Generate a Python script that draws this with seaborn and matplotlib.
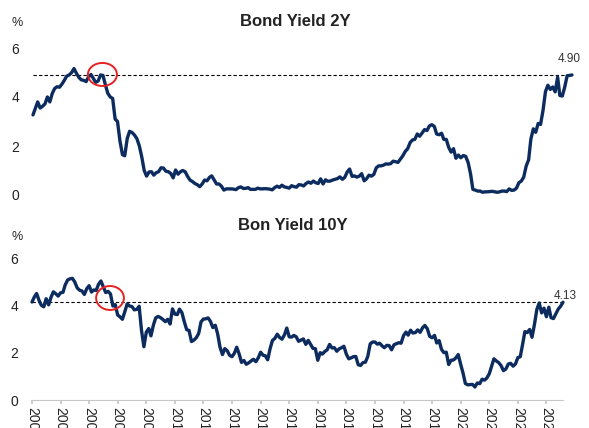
import pandas as pd
import matplotlib.pyplot as plt
import matplotlib.dates as mdates
from matplotlib.patches import Ellipse
import seaborn as sns

# Monthly observations, Jan 2005 - Aug 2023
months = pd.date_range("2005-01-01", "2023-08-01", freq="MS")

yield_2y = [
    3.27, 3.55, 3.80, 3.55, 3.62, 3.72, 4.00, 3.80, 4.15, 4.35, 4.42, 4.40,  # 2005
    4.53, 4.69, 4.85, 4.90, 4.99, 5.16, 4.97, 4.80, 4.70, 4.68, 4.63, 4.82,  # 2006
    4.92, 4.75, 4.60, 4.65, 4.90, 4.88, 4.50, 4.15, 4.00, 3.94, 3.10, 3.00,  # 2007
    2.20, 1.65, 1.60, 2.30, 2.60, 2.55, 2.45, 2.30, 2.00, 1.56, 1.00, 0.77,  # 2008
    0.94, 0.95, 0.81, 0.91, 0.95, 1.11, 1.10, 0.97, 0.95, 0.88, 0.70, 1.02,  # 2009
    0.85, 0.95, 1.00, 0.95, 0.76, 0.61, 0.55, 0.47, 0.42, 0.34, 0.45, 0.61,  # 2010
    0.58, 0.72, 0.78, 0.61, 0.45, 0.45, 0.36, 0.20, 0.25, 0.25, 0.25, 0.24,  # 2011
    0.22, 0.30, 0.33, 0.27, 0.27, 0.30, 0.23, 0.23, 0.23, 0.28, 0.25, 0.25,  # 2012
    0.26, 0.25, 0.24, 0.21, 0.30, 0.36, 0.31, 0.40, 0.33, 0.31, 0.28, 0.38,  # 2013
    0.34, 0.32, 0.42, 0.41, 0.37, 0.47, 0.53, 0.48, 0.57, 0.50, 0.47, 0.66,  # 2014
    0.45, 0.62, 0.56, 0.57, 0.61, 0.64, 0.67, 0.74, 0.64, 0.72, 0.94, 1.06,  # 2015
    0.76, 0.78, 0.73, 0.77, 0.87, 0.58, 0.66, 0.81, 0.77, 0.84, 1.11, 1.19,  # 2016
    1.19, 1.22, 1.27, 1.26, 1.28, 1.38, 1.36, 1.33, 1.47, 1.60, 1.78, 1.89,  # 2017
    2.14, 2.25, 2.27, 2.49, 2.40, 2.53, 2.67, 2.63, 2.82, 2.87, 2.80, 2.49,  # 2018
    2.46, 2.52, 2.27, 2.27, 1.95, 1.75, 1.89, 1.50, 1.63, 1.52, 1.61, 1.58,  # 2019
    1.33, 0.86, 0.23, 0.20, 0.16, 0.16, 0.11, 0.13, 0.13, 0.14, 0.15, 0.13,  # 2020
    0.11, 0.13, 0.16, 0.16, 0.14, 0.25, 0.19, 0.20, 0.28, 0.50, 0.57, 0.73,  # 2021
    1.18, 1.44, 2.28, 2.70, 2.56, 2.92, 2.88, 3.45, 4.22, 4.48, 4.31, 4.41,  # 2022
    4.21, 4.81, 4.06, 4.04, 4.40, 4.87, 4.88, 4.90,                          # 2023
]

yield_10y = [
    4.14, 4.36, 4.50, 4.21, 4.00, 3.94, 4.28, 4.02, 4.34, 4.57, 4.49, 4.39,  # 2005
    4.53, 4.55, 4.86, 5.07, 5.12, 5.14, 4.99, 4.74, 4.64, 4.61, 4.46, 4.70,  # 2006
    4.83, 4.56, 4.65, 4.63, 4.89, 5.03, 4.78, 4.54, 4.59, 4.48, 3.97, 4.03,  # 2007
    3.59, 3.51, 3.41, 3.73, 4.06, 3.97, 3.95, 3.81, 3.83, 3.96, 2.93, 2.25,  # 2008
    2.87, 3.02, 2.71, 3.16, 3.47, 3.53, 3.48, 3.40, 3.31, 3.41, 3.21, 3.85,  # 2009
    3.63, 3.61, 3.84, 3.69, 3.31, 2.97, 2.94, 2.47, 2.53, 2.63, 2.81, 3.30,  # 2010
    3.42, 3.43, 3.47, 3.32, 3.06, 3.16, 2.80, 2.23, 1.92, 2.17, 2.08, 1.89,  # 2011
    1.83, 1.98, 2.23, 1.95, 1.59, 1.67, 1.51, 1.57, 1.65, 1.72, 1.62, 1.78,  # 2012
    2.02, 1.89, 1.87, 1.70, 2.16, 2.52, 2.60, 2.78, 2.64, 2.57, 2.75, 3.04,  # 2013
    2.67, 2.66, 2.73, 2.67, 2.48, 2.53, 2.58, 2.35, 2.52, 2.35, 2.18, 2.17,  # 2014
    1.68, 2.00, 1.94, 2.05, 2.12, 2.35, 2.20, 2.21, 2.06, 2.16, 2.21, 2.27,  # 2015
    1.94, 1.74, 1.78, 1.83, 1.84, 1.49, 1.46, 1.58, 1.60, 1.84, 2.37, 2.45,  # 2016
    2.45, 2.36, 2.40, 2.29, 2.21, 2.31, 2.30, 2.12, 2.33, 2.38, 2.42, 2.40,  # 2017
    2.72, 2.87, 2.74, 2.95, 2.83, 2.85, 2.96, 2.86, 3.05, 3.15, 3.01, 2.69,  # 2018
    2.63, 2.73, 2.41, 2.51, 2.14, 2.00, 2.02, 1.50, 1.68, 1.69, 1.78, 1.92,  # 2019
    1.51, 1.13, 0.70, 0.64, 0.65, 0.66, 0.55, 0.72, 0.69, 0.88, 0.84, 0.93,  # 2020
    1.11, 1.44, 1.74, 1.65, 1.58, 1.45, 1.24, 1.31, 1.52, 1.55, 1.43, 1.52,  # 2021
    1.79, 1.83, 2.32, 2.89, 2.85, 2.98, 2.65, 3.19, 3.83, 4.10, 3.68, 3.88,  # 2022
    3.52, 3.92, 3.48, 3.44, 3.64, 3.84, 3.96, 4.13,                          # 2023
]

years = list(range(2005, 2024))
y_ticks = [0, 2, 4, 6]
titles = ["Bond Yield 2Y", "Bon Yield 10Y"]

sns.set_theme(style="white")
plt.rcParams["font.family"] = ["Liberation Sans", "DejaVu Sans"]

df = pd.DataFrame({"date": months, "2Y": yield_2y, "10Y": yield_10y})

NAVY = "#0c2b5e"
TEXT = "#222222"
W, H = 589, 428

fig = plt.figure(figsize=(W / 100, H / 100), dpi=100)
fig.patch.set_facecolor("white")

ax_top = fig.add_axes([33 / W, 233 / H, 539 / W, 147 / H])
ax_bot = fig.add_axes([32 / W, 28 / H, 531 / W, 142 / H])

panels = [
    (ax_top, "2Y", (-2, 11.5), ("2007-05-25", 4.92, 365, 0.94)),
    (ax_bot, "10Y", (1.5, 4.5), ("2007-09-25", 4.31, 355, 1.01)),
]

for ax, col, label_offset, (c_date, c_val, c_w, c_h) in panels:
    sns.lineplot(data=df, x="date", y=col, ax=ax, color=NAVY, linewidth=2.4)
    for line in ax.lines:
        line.set_clip_on(False)
        line.set_solid_joinstyle("round")
        line.set_solid_capstyle("round")

    last = df[col].iloc[-1]
    ax.plot([months[0], months[-1]], [last, last], color="black",
            linewidth=0.8, linestyle=(0, (3, 2)), zorder=1)
    ax.annotate(f"{last:.2f}", xy=(months[-1], last), xytext=label_offset,
                textcoords="offset points", ha="center", va="center",
                fontsize=8.5, color="#333333")

    ax.add_patch(Ellipse((mdates.date2num(pd.Timestamp(c_date)), c_val),
                         width=c_w, height=c_h, fill=False,
                         edgecolor="#e52222", linewidth=1.4, clip_on=False,
                         zorder=5))

    ax.set_xlim(months[0], months[-1])
    ax.set_ylim(0, 6)
    ax.set_yticks(y_ticks)
    ax.set_yticklabels([str(v) for v in y_ticks], fontsize=10, color=TEXT)
    ax.tick_params(axis="y", length=0, pad=10)
    ax.set_xlabel("")
    ax.set_ylabel("")
    ax.set_facecolor("none")
    for side in ["top", "right", "left", "bottom"]:
        ax.spines[side].set_visible(False)

# upper panel has no date axis
ax_top.set_xticks([])

# lower panel: light baseline with yearly ticks
ax_bot.spines["bottom"].set_visible(True)
ax_bot.spines["bottom"].set_color("#c8c8c8")
ax_bot.spines["bottom"].set_linewidth(0.8)
ax_bot.set_xticks([pd.Timestamp(f"{y}-01-01") for y in years])
ax_bot.set_xticklabels([str(y) for y in years], rotation=-90, fontsize=10,
                       color=TEXT, ha="center", va="top")
ax_bot.tick_params(axis="x", length=3, color="#c8c8c8", pad=2, bottom=True)

# panel titles and unit markers
fig.text(295 / W, 1 - 21 / H, titles[0], ha="center", va="center",
         fontsize=12, fontweight="bold", color=TEXT)
fig.text(293 / W, 1 - 225 / H, titles[1], ha="center", va="center",
         fontsize=12, fontweight="bold", color=TEXT)
fig.text(17 / W, 1 - 23 / H, "%", ha="center", va="center", fontsize=9, color=TEXT)
fig.text(17 / W, 1 - 237 / H, "%", ha="center", va="center", fontsize=9, color=TEXT)

fig.savefig("out.png", dpi=100)
